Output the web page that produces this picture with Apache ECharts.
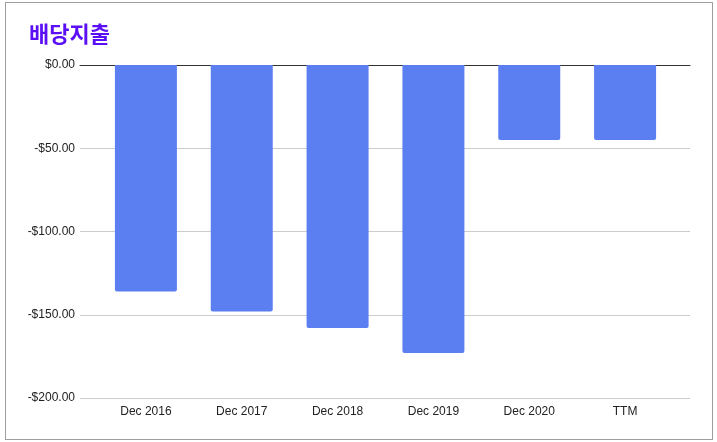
<!DOCTYPE html>
<html>
<head>
<meta charset="utf-8">
<script src="https://cdn.jsdelivr.net/npm/echarts@6/dist/echarts.min.js"></script>
<style>
  body { margin: 0; background: #fff; }
  #main { position: absolute; left: 0; top: 0; width: 717px; height: 442px; }
  #frame { position: absolute; left: 5px; top: 2px; width: 706px; height: 436px; border: 1px solid #9e9e9e; pointer-events: none; }
</style>
</head>
<body>
<div id="main"></div>
<div id="frame"></div>
<script>
  // 배당지출 (dividends paid)
  const categories = ['Dec 2016', 'Dec 2017', 'Dec 2018', 'Dec 2019', 'Dec 2020', 'TTM'];
  const dividendsPaid = [-136, -148, -158, -173, -45, -45];
  const yMin = -200, yMax = 0, yStep = 50;

  const chart = echarts.init(document.getElementById('main'));
  const option = {
    animation: false,
    title: {
      text: '배당지출',
      left: 24,
      top: 18,
      textStyle: { color: '#5a0ff5', fontSize: 22, fontWeight: 'bold', fontFamily: 'Noto Sans CJK KR' }
    },
    grid: [
      { left: 80, right: 27, top: 65, bottom: 44 },
      { left: 98, right: 44, top: 65, bottom: 44 }
    ],
    xAxis: [
      {
        gridIndex: 0, type: 'category', data: categories,
        axisLine: { show: true, lineStyle: { color: '#333', width: 1 } },
        axisTick: { show: false }, axisLabel: { show: false }
      },
      {
        gridIndex: 1, type: 'category', data: categories, position: 'bottom',
        axisLine: { show: false, onZero: false }, axisTick: { show: false },
        axisLabel: { margin: 8, color: '#222', fontSize: 12, fontFamily: 'Arial, Liberation Sans' }
      }
    ],
    yAxis: [
      {
        gridIndex: 0, type: 'value', min: yMin, max: yMax, interval: yStep,
        axisLine: { show: false }, axisTick: { show: false },
        splitLine: { lineStyle: { color: '#cccccc' } },
        axisLabel: {
          margin: 5, color: '#222', fontSize: 12, fontFamily: 'Arial, Liberation Sans',
          formatter: v => (v < 0 ? '-$' : '$') + Math.abs(v).toFixed(2)
        }
      },
      {
        gridIndex: 1, type: 'value', min: yMin, max: yMax, interval: yStep, show: false
      }
    ],
    series: [
      {
        type: 'bar', xAxisIndex: 1, yAxisIndex: 1,
        data: dividendsPaid,
        barWidth: 62,
        itemStyle: { color: '#5b7ff1', borderRadius: [0, 0, 2, 2] }
      }
    ]
  };
  chart.setOption(option);
</script>
</body>
</html>
